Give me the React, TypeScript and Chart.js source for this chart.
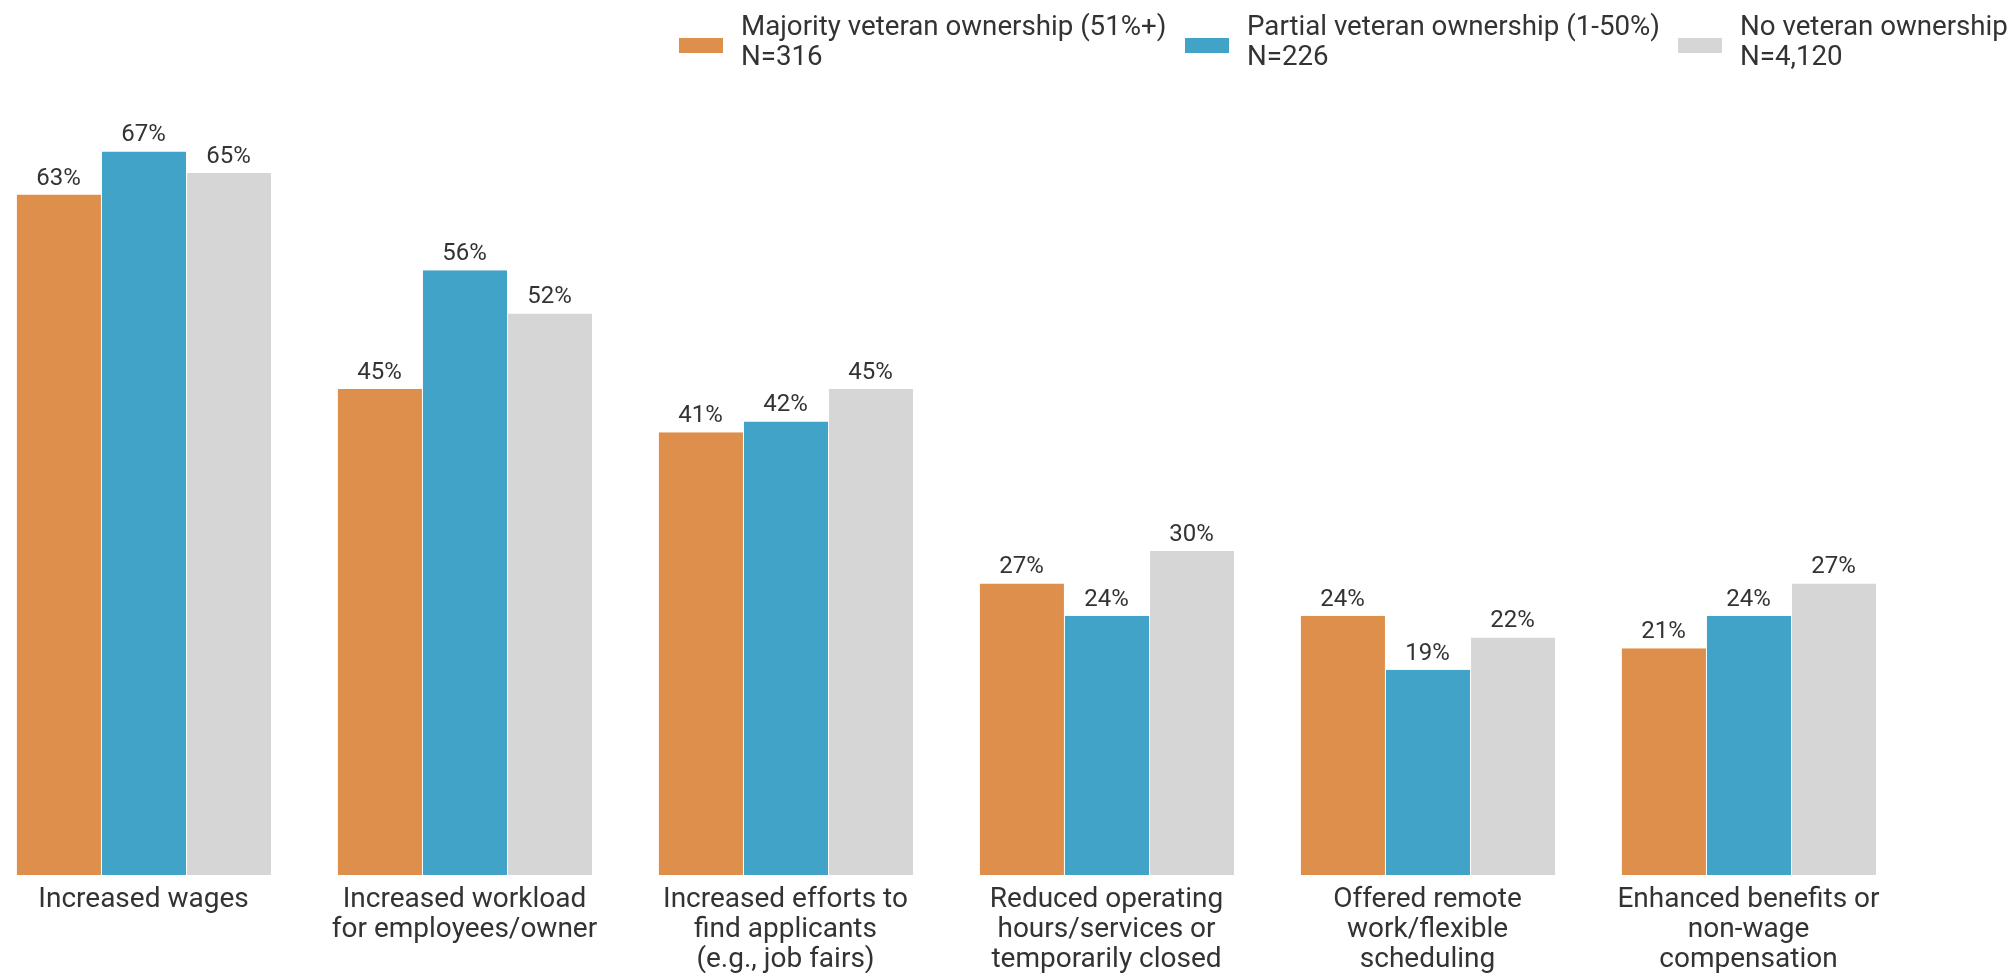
import React, { useEffect, useRef } from "react";
import { Chart, registerables } from "chart.js";

Chart.register(...registerables);

// ---------- data ----------
const categories: string[][] = [
  ["Increased wages"],
  ["Increased workload", "for employees/owner"],
  ["Increased efforts to", "find applicants", "(e.g., job fairs)"],
  ["Reduced operating", "hours/services or", "temporarily closed"],
  ["Offered remote", "work/flexible", "scheduling"],
  ["Enhanced benefits or", "non-wage", "compensation"],
];
const seriesNames = [
  "Majority veteran ownership (51%+)",
  "Partial veteran ownership (1-50%)",
  "No veteran ownership",
];
const sampleSizes = ["N=316", "N=226", "N=4,120"];
const majorityValues = [63, 45, 41, 27, 24, 21];
const partialValues = [67, 56, 42, 24, 19, 24];
const noneValues = [65, 52, 45, 30, 22, 27];
const seriesColors = ["#DE8F4B", "#42A3C8", "#D6D6D6"];

// ---------- layout ----------
const PAGE_W = 2012;
const PAGE_H = 973;
const CANVAS_SHIFT = 17; // canvas starts 17px left of the page
const CANVAS_W = PAGE_W + CANVAS_SHIFT;
const LEGEND_BOX_X = [679, 1185, 1678];
const FONT = "Roboto, 'Noto Sans', sans-serif";
const TEXT_COLOR = "#333333";

const legendPlugin = {
  id: "customLegend",
  afterDraw(chart: any) {
    const ctx = chart.ctx as CanvasRenderingContext2D;
    ctx.save();
    chart.data.datasets.forEach((ds: any, i: number) => {
      const bx = LEGEND_BOX_X[i] + CANVAS_SHIFT;
      ctx.fillStyle = ds.backgroundColor;
      ctx.fillRect(bx, 38, 44, 15);
      ctx.fillStyle = TEXT_COLOR;
      ctx.font = `27.7px ${FONT}`;
      ctx.textAlign = "left";
      ctx.textBaseline = "alphabetic";
      ctx.fillText(seriesNames[i], bx + 62, 35);
      ctx.fillText(sampleSizes[i], bx + 62, 65);
    });
    ctx.restore();
  },
};

const valueLabelPlugin = {
  id: "valueLabels",
  afterDatasetsDraw(chart: any) {
    const ctx = chart.ctx as CanvasRenderingContext2D;
    ctx.save();
    ctx.font = `24px ${FONT}`;
    ctx.fillStyle = TEXT_COLOR;
    ctx.textAlign = "center";
    ctx.textBaseline = "alphabetic";
    chart.data.datasets.forEach((ds: any, i: number) => {
      const meta = chart.getDatasetMeta(i);
      meta.data.forEach((el: any, j: number) => {
        ctx.fillText(`${ds.data[j]}%`, el.x, el.y - 10);
      });
    });
    ctx.restore();
  },
};

export default function App() {
  const canvasRef = useRef<HTMLCanvasElement | null>(null);

  useEffect(() => {
    if (!canvasRef.current) return;
    const values = [majorityValues, partialValues, noneValues];
    const chart = new Chart(canvasRef.current, {
      type: "bar",
      data: {
        labels: categories,
        datasets: values.map((vals, i) => ({
          label: seriesNames[i],
          data: vals,
          backgroundColor: seriesColors[i],
          borderColor: "rgba(255,255,255,0.85)",
          borderWidth: { left: 1, right: 0, top: 0, bottom: 0 },
          borderSkipped: false,
          categoryPercentage: 0.795,
          barPercentage: 1,
        })),
      },
      options: {
        responsive: false,
        animation: false,
        layout: { padding: { top: 119, right: CANVAS_W - (1909 + CANVAS_SHIFT), left: 0, bottom: 0 } },
        plugins: {
          legend: { display: false },
          tooltip: { enabled: false },
        },
        scales: {
          x: {
            grid: { display: false },
            border: { display: false },
            ticks: {
              color: TEXT_COLOR,
              font: { family: FONT, size: 28, lineHeight: 30 / 28 },
              padding: 2,
              maxRotation: 0,
              autoSkip: false,
            },
            afterFit: (scale: any) => {
              scale.height = PAGE_H - 875;
            },
          },
          y: {
            display: false,
            min: 0,
            max: 70,
          },
        },
      },
      plugins: [legendPlugin, valueLabelPlugin],
    });
    return () => chart.destroy();
  }, []);

  return (
    <div
      style={{
        position: "absolute",
        left: 0,
        top: 0,
        width: PAGE_W,
        height: PAGE_H,
        overflow: "hidden",
        background: "#fff",
      }}
    >
      <canvas
        ref={canvasRef}
        width={CANVAS_W}
        height={PAGE_H}
        style={{ position: "absolute", left: -CANVAS_SHIFT, top: 0, width: CANVAS_W, height: PAGE_H }}
      />
    </div>
  );
}
